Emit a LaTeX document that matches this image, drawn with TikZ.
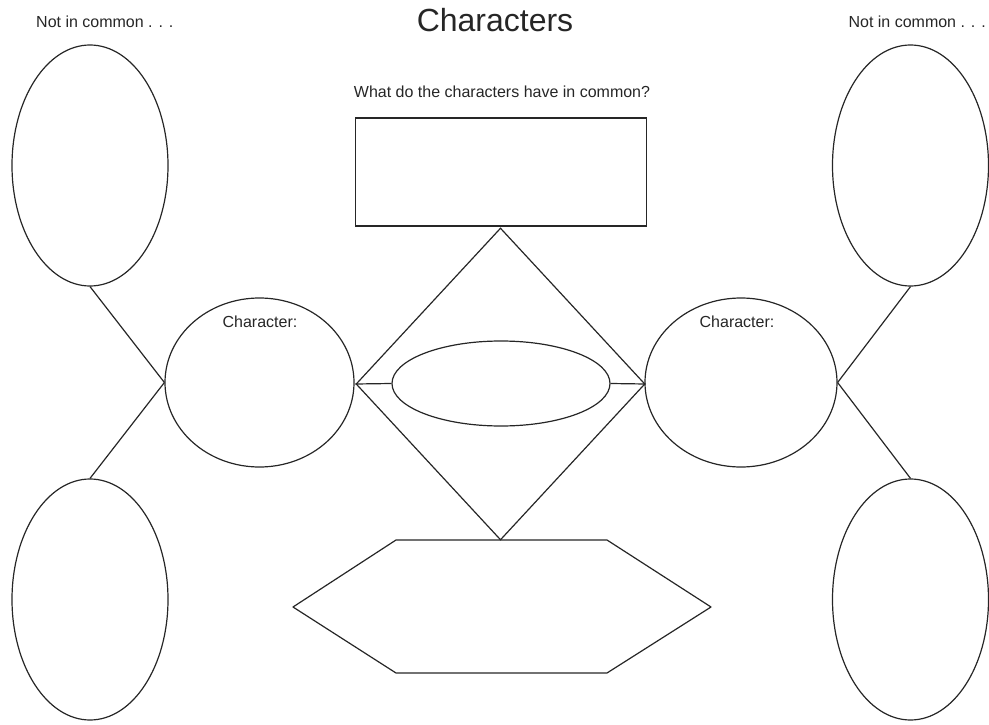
\documentclass[tikz,border=0pt]{standalone}
\usepackage{fontspec}
\setmainfont{Liberation Sans}
\usetikzlibrary{shapes.geometric}
\begin{document}
\begin{tikzpicture}[x=1pt,y=-1pt,
  line/.style={draw=black!85, line width=1.2pt},
  oval/.style={line, ellipse, inner sep=0pt},
  small/.style={font=\fontsize{16}{19}\selectfont, text=black!85, inner sep=0pt},
  title/.style={font=\fontsize{32}{38}\selectfont, text=black!85, inner sep=0pt}]
\useasboundingbox (0,0) rectangle (989,725);
% texts
\node[title] (ttl) at (495,20) {Characters};
\node[small, anchor=west] (nl) at (36,22) {Not in common . . .};
\node[small, anchor=east] (nr) at (986,22) {Not in common . . .};
\node[small] (q) at (502,92) {What do the characters have in common?};
% shapes
\node[line, rectangle, minimum width=291pt, minimum height=108pt, inner sep=0pt] (box) at (501,172) {};
\node[line, diamond, minimum width=289pt, minimum height=312pt, inner sep=0pt] (dia) at (500.5,384) {};
\node[oval, minimum width=218pt, minimum height=85pt] (mid) at (501,383.5) {};
\node[oval, minimum width=189pt, minimum height=169pt] (cl) at (259.5,382.5) {};
\node[oval, minimum width=192pt, minimum height=169pt] (cr) at (741,382.5) {};
\node[oval, minimum width=156pt, minimum height=241pt] (tl) at (90,165.5) {};
\node[oval, minimum width=156pt, minimum height=241pt] (bl) at (90,599.5) {};
\node[oval, minimum width=156pt, minimum height=241pt] (tr) at (910.5,165.5) {};
\node[oval, minimum width=156pt, minimum height=241pt] (br) at (910.5,599.5) {};
\node[small] (chl) at (260,322) {Character:};
\node[small] (chr) at (737,322) {Character:};
% hexagon
\coordinate (h1) at (293,607);
\coordinate (h2) at (396,540);
\coordinate (h3) at (607,540);
\coordinate (h4) at (711,607);
\coordinate (h5) at (607,673);
\coordinate (h6) at (396,673);
\draw[line, line join=round] (h1) -- (h2) -- (h3) -- (h4) -- (h5) -- (h6) -- cycle;
% connectors
\draw[line] (dia.west) -- (mid.west);
\draw[line] (mid.east) -- (dia.east);
\draw[line] (tl.south) -- (cl.west);
\draw[line] (cl.west) -- (bl.north);
\draw[line] (tr.south) -- (cr.east);
\draw[line] (cr.east) -- (br.north);
\end{tikzpicture}
\end{document}
